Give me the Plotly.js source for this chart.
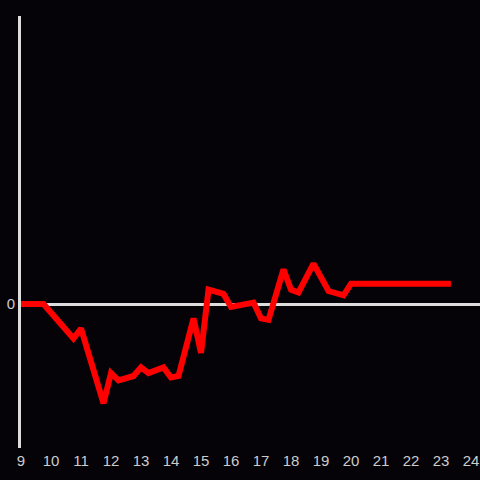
<!DOCTYPE html>
<html>
<head>
<meta charset="utf-8">
<script src="https://cdn.plot.ly/plotly-3.0.1.min.js"></script>
<style>html,body{margin:0;padding:0;background:#050308;}</style>
</head>
<body>
<div id="chart" style="width:480px;height:480px;"></div>
<script>
var hours = [9.0, 9.75, 10.75, 11.0, 11.75, 12.0, 12.25, 12.75, 13.0, 13.25, 13.75, 14.0, 14.25, 14.75, 15.0, 15.25, 15.75, 16.0, 16.75, 17.0, 17.25, 17.75, 18.0, 18.25, 18.75, 19.25, 19.75, 20.0, 23.33];
var values = [0, 0, -0.24, -0.17, -0.69, -0.48, -0.53, -0.5, -0.44, -0.48, -0.44, -0.51, -0.5, -0.1, -0.34, 0.1, 0.07, -0.02, 0.01, -0.1, -0.11, 0.24, 0.1, 0.08, 0.28, 0.09, 0.06, 0.14, 0.14];
var xTicks = [9,10,11,12,13,14,15,16,17,18,19,20,21,22,23,24];

Plotly.newPlot('chart', [{
  x: hours, y: values, type: 'scatter', mode: 'lines',
  line: {color: '#ff0000', width: 6},
  hoverinfo: 'none'
}], {
  width: 480, height: 480,
  paper_bgcolor: '#050308', plot_bgcolor: '#050308',
  margin: {l: 21, r: 0, t: 16, b: 32},
  showlegend: false,
  font: {family: 'Liberation Sans, Arial, sans-serif', size: 14, color: '#cccccc'},
  xaxis: {range: [9, 24.3], tickvals: xTicks, ticktext: xTicks.map(String),
    showgrid: false, zeroline: false, showline: false, ticks: '', ticklen: 0,
    ticklabelstandoff: 2,
    tickfont: {size: 15, color: '#cccccc'}},
  yaxis: {range: [-1, 2], tickvals: [0], ticktext: ['0'], showgrid: false,
    zeroline: true, zerolinecolor: '#dddddd', zerolinewidth: 3,
    showline: true, linecolor: '#dddddd', linewidth: 3, ticks: '',
    ticklabelstandoff: 0,
    tickfont: {size: 15, color: '#cccccc'}}
}, {staticPlot: true, displayModeBar: false});
</script>
</body>
</html>
